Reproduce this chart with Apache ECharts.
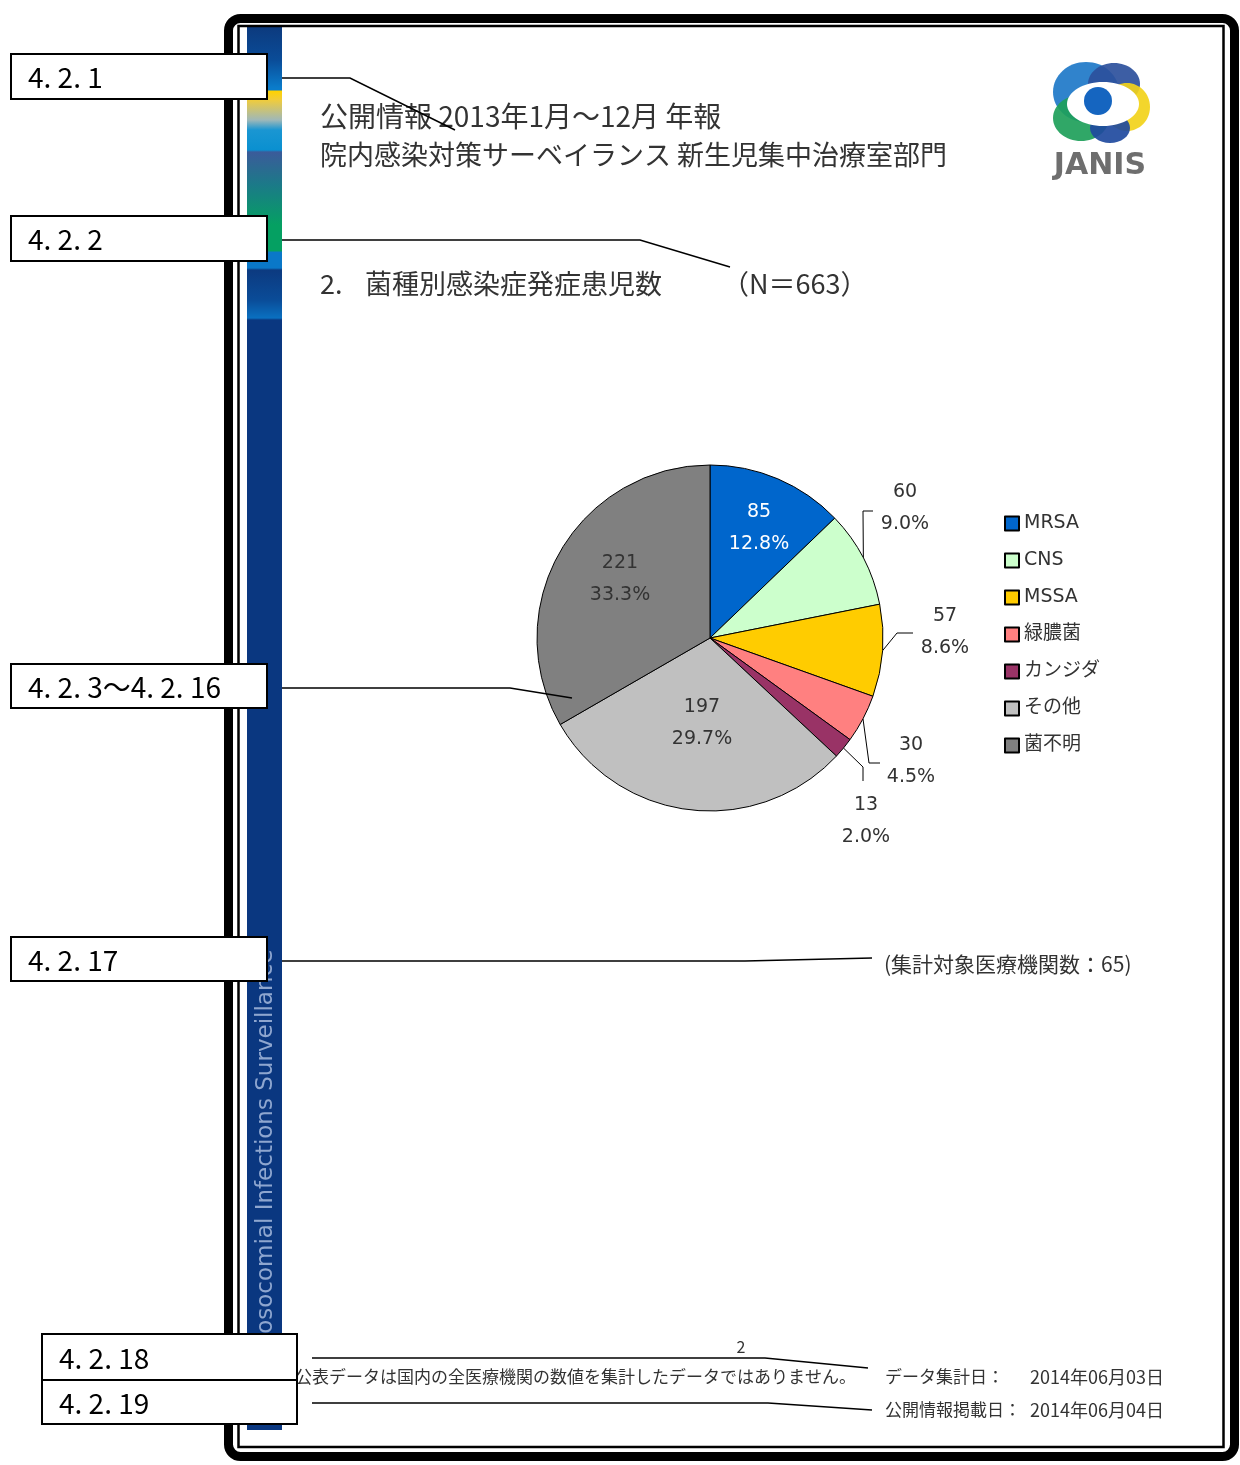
<!DOCTYPE html>
<html>
<head>
<meta charset="utf-8">
<script src="https://cdn.jsdelivr.net/npm/echarts@6/dist/echarts.min.js"></script>
<style>
html, body { margin: 0; padding: 0; background: #fff; }
#main { width: 1240px; height: 1465px; }
</style>
</head>
<body>
<div id="main"></div>
<script>
var chartDom = document.getElementById('main');
var myChart = echarts.init(chartDom);
var option;

// Data: 菌種別感染症発症患児数 (N=663)
const categories = ['MRSA', 'CNS', 'MSSA', '緑膿菌', 'カンジダ', 'その他', '菌不明'];
const counts = [85, 60, 57, 30, 13, 197, 221];
const total = counts.reduce((a, b) => a + b, 0);

// texts on the page
const titleLines = ['公開情報 2013年1月～12月 年報', '院内感染対策サーベイランス 新生児集中治療室部門'];
const sectionNo = '2.';
const sectionTitle = '菌種別感染症発症患児数';
const nText = '（N＝663）';
const facilityText = '(集計対象医療機関数：65)';
const boxLabels = ['4. 2. 1', '4. 2. 2', '4. 2. 3～4. 2. 16', '4. 2. 17', '4. 2. 18', '4. 2. 19'];

const sliceColors = ['#0066cc', '#ccffcc', '#ffcc00', '#ff8080', '#993366', '#c0c0c0', '#808080'];
const insideSlices = ['MRSA', 'その他', '菌不明'];
// label block centres
const labelAnchors = [[759, 528], [905, 508], [945, 632], [911, 761], [866, 821], [702, 723], [620, 579]];
// elbow points of outside label lines (after the slice anchor)
const lineBends = [null, [[863, 511], [873, 511]], [[897, 633], [913, 633]], [[869, 763], [880, 763]], [[863, 767], [863, 781]], null, null];

const jp = '"Noto Sans CJK JP", sans-serif';
const latin = '"DejaVu Sans", "Noto Sans CJK JP", sans-serif';

// sidebar gradient (y pixel -> colour)
const barTop = 27, barBottom = 1430;
const barStops = [
  [27, '#0c3a7e'], [60, '#0a4c98'], [88, '#0a7ccb'], [90, '#0a7ccb'], [91, '#ffd200'],
  [100, '#f0cc3c'], [120, '#9fb8b8'], [130, '#1a96d2'], [150, '#0a90d0'], [152, '#3b5b9a'],
  [185, '#1b7a88'], [225, '#05a062'], [251, '#05a062'], [252, '#0a78c8'], [268, '#0a78c8'],
  [270, '#0c3a80'], [300, '#0a4c98'], [318, '#0a70c0'], [320, '#0a3780'], [1430, '#0a3780']
];

const graphics = [];
graphics.push({
  type: 'rect', z: 1,
  shape: { x: 247, y: barTop, width: 35, height: barBottom - barTop },
  style: {
    fill: {
      type: 'linear', x: 0, y: 0, x2: 0, y2: 1,
      colorStops: barStops.map(s => ({ offset: (s[0] - barTop) / (barBottom - barTop), color: s[1] }))
    }
  }
});
graphics.push({
  type: 'text', z: 2, x: 266, y: 1351, rotation: Math.PI / 2,
  style: { text: 'Nosocomial Infections Surveillance', fill: '#8ea6cf', font: '23px "DejaVu Sans"', align: 'left', verticalAlign: 'middle' }
});

// frames
graphics.push({ type: 'rect', z: 2, shape: { x: 228.5, y: 18.5, width: 1006, height: 1438, r: 12 }, style: { fill: null, stroke: '#000', lineWidth: 9 } });
graphics.push({ type: 'rect', z: 2, shape: { x: 238.5, y: 26, width: 985, height: 1421 }, style: { fill: null, stroke: '#000', lineWidth: 2.5 } });

// logo
const logoParts = [
  { cx: 1086, cy: 92, rx: 33, ry: 30, c: '#1e78c8' },
  { cx: 1114, cy: 84, rx: 26, ry: 21, c: '#2c509c' },
  { cx: 1127, cy: 107, rx: 23, ry: 24, c: '#f2d31a' },
  { cx: 1081, cy: 118, rx: 28, ry: 23, c: '#1ea05a' },
  { cx: 1110, cy: 128, rx: 20, ry: 15, c: '#1f4a9e' }
];
logoParts.forEach(p => graphics.push({ type: 'ellipse', z: 2, shape: { cx: p.cx, cy: p.cy, rx: p.rx, ry: p.ry }, style: { fill: p.c, opacity: 0.92 } }));
graphics.push({ type: 'ellipse', z: 3, shape: { cx: 1103, cy: 104, rx: 36, ry: 22 }, style: { fill: '#fff' } });
graphics.push({ type: 'circle', z: 4, shape: { cx: 1098, cy: 101, r: 14 }, style: { fill: '#1565c0' } });
graphics.push({ type: 'text', z: 4, x: 1100, y: 166, style: { text: 'JANIS', fill: '#6e6e6e', font: 'bold 30px "DejaVu Sans"', align: 'center', verticalAlign: 'middle' } });

// titles
graphics.push({ type: 'text', z: 3, x: 320, y: 116, style: { text: titleLines[0], fill: '#333', font: '28px ' + jp, verticalAlign: 'middle' } });
graphics.push({ type: 'text', z: 3, x: 320, y: 155, style: { text: titleLines[1], fill: '#333', font: '27px ' + jp, verticalAlign: 'middle' } });
graphics.push({ type: 'text', z: 3, x: 320, y: 284, style: { text: sectionNo, fill: '#333', font: '27px ' + jp, verticalAlign: 'middle' } });
graphics.push({ type: 'text', z: 3, x: 365, y: 284, style: { text: sectionTitle, fill: '#333', font: '27px ' + jp, verticalAlign: 'middle' } });
graphics.push({ type: 'text', z: 3, x: 722, y: 284, style: { text: nText, fill: '#333', font: '27px ' + jp, verticalAlign: 'middle' } });
graphics.push({ type: 'text', z: 3, x: 884, y: 964, style: { text: facilityText, fill: '#333', font: '21px ' + jp, verticalAlign: 'middle' } });

// footer
graphics.push({ type: 'text', z: 3, x: 741, y: 1347, style: { text: '2', fill: '#333', font: '16px ' + jp, align: 'center', verticalAlign: 'middle' } });
graphics.push({ type: 'text', z: 3, x: 856, y: 1377, style: { text: '※公表データは国内の全医療機関の数値を集計したデータではありません。', fill: '#333', font: '17px ' + jp, align: 'right', verticalAlign: 'middle' } });
graphics.push({ type: 'text', z: 3, x: 885, y: 1377, style: { text: 'データ集計日：', fill: '#333', font: '17px ' + jp, verticalAlign: 'middle' } });
graphics.push({ type: 'text', z: 3, x: 1030, y: 1377, style: { text: '2014年06月03日', fill: '#333', font: '18px ' + jp, verticalAlign: 'middle' } });
graphics.push({ type: 'text', z: 3, x: 885, y: 1410, style: { text: '公開情報掲載日：', fill: '#333', font: '17px ' + jp, verticalAlign: 'middle' } });
graphics.push({ type: 'text', z: 3, x: 1030, y: 1410, style: { text: '2014年06月04日', fill: '#333', font: '18px ' + jp, verticalAlign: 'middle' } });

// leader lines
const leaders = [
  [[282, 78], [350, 78], [455, 130]],
  [[282, 240], [640, 240], [730, 267]],
  [[282, 688], [510, 688], [572, 698]],
  [[282, 961], [745, 961], [872, 958]],
  [[312, 1358], [765, 1358], [868, 1368]],
  [[312, 1403], [768, 1403], [872, 1410]]
];
leaders.forEach(pts => graphics.push({ type: 'polyline', z: 20, shape: { points: pts }, style: { stroke: '#000', lineWidth: 1.5, fill: null } }));

// label boxes
const boxes = [[11, 54, 256, 45], [11, 216, 256, 45], [11, 664, 256, 44], [11, 937, 256, 44], [42, 1334, 255, 46], [42, 1380, 255, 44]];
boxes.forEach((b, i) => {
  graphics.push({ type: 'rect', z: 30, shape: { x: b[0], y: b[1], width: b[2], height: b[3] }, style: { fill: '#fff', stroke: '#000', lineWidth: 2 } });
  graphics.push({ type: 'text', z: 31, x: b[0] + 17, y: b[1] + b[3] / 2 + 1, style: { text: boxLabels[i], fill: '#000', font: '28px ' + jp, verticalAlign: 'middle' } });
});

option = {
  animation: false,
  backgroundColor: '#fff',
  color: sliceColors,
  legend: {
    orient: 'vertical',
    left: 999,
    top: 509,
    itemWidth: 14,
    itemHeight: 14,
    itemGap: 18,
    icon: 'rect',
    data: categories,
    textStyle: { fontSize: 19, color: '#333', fontFamily: latin }
  },
  graphic: graphics,
  series: [
    {
      type: 'pie',
      center: [710, 638],
      radius: 173,
      startAngle: 90,
      clockwise: true,
      avoidLabelOverlap: false,
      itemStyle: { borderColor: '#000', borderWidth: 1 },
      label: {
        position: 'outside',
        fontSize: 19,
        fontFamily: latin,
        color: '#333',
        lineHeight: 32,
        align: 'center',
        formatter: function (p) {
          return p.value + '\n' + (p.value / total * 100).toFixed(1) + '%';
        }
      },
      labelLine: { show: true, length: 12, length2: 10, lineStyle: { color: '#000', width: 1 } },
      labelLayout: function (params) {
        const i = params.dataIndex;
        const a = labelAnchors[i];
        const res = { x: a[0], y: a[1], align: 'center', verticalAlign: 'middle' };
        if (lineBends[i] && params.labelLinePoints) {
          res.labelLinePoints = [params.labelLinePoints[0]].concat(lineBends[i]);
        }
        return res;
      },
      emphasis: { disabled: true },
      data: categories.map((name, i) => {
        const inside = insideSlices.indexOf(name) >= 0;
        return {
          name: name,
          value: counts[i],
          label: inside ? { position: 'inside', color: name === 'MRSA' ? '#fff' : '#333' } : {},
          labelLine: { show: !inside }
        };
      })
    }
  ]
};

option && myChart.setOption(option);
</script>
</body>
</html>
